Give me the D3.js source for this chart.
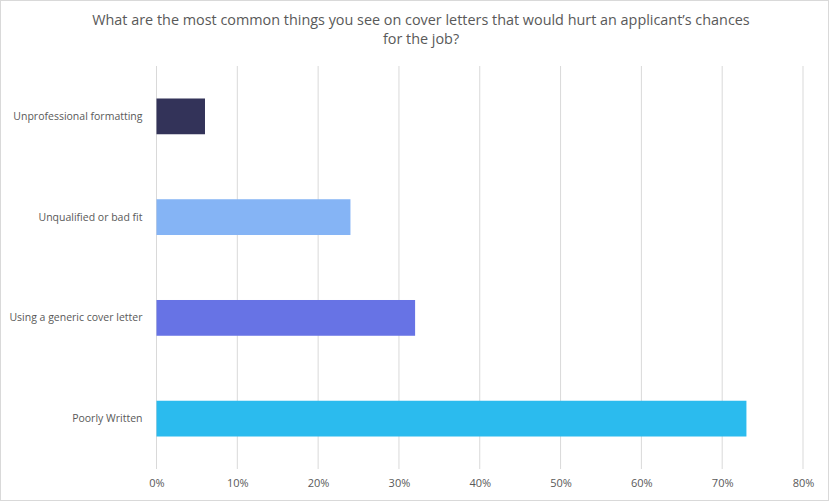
<!DOCTYPE html>
<html>
<head>
<meta charset="utf-8">
<script src="https://cdn.jsdelivr.net/npm/d3@7"></script>
<style>
  body { margin: 0; background: #fff; }
  svg { display: block; }
  text { font-family: "Open Sans", "Liberation Sans", sans-serif; fill: #595959; }
</style>
</head>
<body>
<div class="barChart"></div>
<script>
var categories = ["Unprofessional formatting", "Unqualified or bad fit", "Using a generic cover letter", "Poorly Written"];
var values = [6, 24, 32, 73];
var colors = ["#333359", "#85b4f5", "#6773e5", "#2bbbee"];
var ticks = [0, 10, 20, 30, 40, 50, 60, 70, 80];
var titleLines = ["What are the most common  things you see on cover letters that would hurt an applicant\u2019s chances", "for the job?"];

function init() {
  var w = 829;
  var h = 501;
  var left = 156.5, right = 803, top = 66, bottom = 469;

  var svg = d3.select(".barChart")
    .append("svg")
    .attr("width", w)
    .attr("height", h);

  svg.append("rect")
    .attr("x", 0.5)
    .attr("y", 0.5)
    .attr("width", w - 1)
    .attr("height", h - 1)
    .style("fill", "#fff")
    .style("stroke", "#d9d9d9");

  var xScale = d3.scaleLinear()
    .domain([0, 80])
    .range([left, right]);

  var yScale = d3.scaleBand()
    .domain(categories)
    .range([top, bottom])
    .paddingInner(0.645)
    .paddingOuter(0.3225);

  // gridlines
  svg.append("g")
    .selectAll("line")
    .data(ticks)
    .enter()
    .append("line")
    .attr("x1", function(d) { return xScale(d); })
    .attr("x2", function(d) { return xScale(d); })
    .attr("y1", top)
    .attr("y2", bottom)
    .style("stroke", "#d9d9d9")
    .style("stroke-width", 1);

  svg.selectAll(".bar")
    .data(values)
    .enter()
    .append("rect")
    .attr("class", "bar")
    .attr("x", xScale(0))
    .attr("y", function(d, i) { return yScale(categories[i]); })
    .attr("width", function(d) { return xScale(d) - xScale(0); })
    .attr("height", yScale.bandwidth())
    .style("fill", function(d, i) { return colors[i]; });

  // x axis labels
  var xAxis = d3.axisBottom(xScale)
    .tickValues(ticks)
    .tickSize(0)
    .tickPadding(10)
    .tickFormat(function(d) { return d + "%"; });

  var gx = svg.append("g")
    .attr("transform", "translate(0," + bottom + ")")
    .call(xAxis);
  gx.select(".domain").remove();
  gx.selectAll("text")
    .attr("font-size", "11px")
    .style("font-family", "'Open Sans', sans-serif")
    .style("fill", "#595959");

  // y axis labels
  var yAxis = d3.axisLeft(yScale)
    .tickSize(0)
    .tickPadding(14);

  var gy = svg.append("g")
    .attr("transform", "translate(" + left + ",0)")
    .call(yAxis);
  gy.select(".domain").remove();
  gy.selectAll("text")
    .attr("font-size", "10.5px")
    .style("font-family", "'Open Sans', sans-serif")
    .style("fill", "#595959");

  svg.selectAll(".title")
    .data(titleLines)
    .enter()
    .append("text")
    .attr("class", "title")
    .attr("x", 421)
    .attr("y", function(d, i) { return 25 + i * 19; })
    .attr("text-anchor", "middle")
    .attr("font-size", "14.4px")
    .text(function(d) { return d; });
}

window.onload = init;
</script>
</body>
</html>
